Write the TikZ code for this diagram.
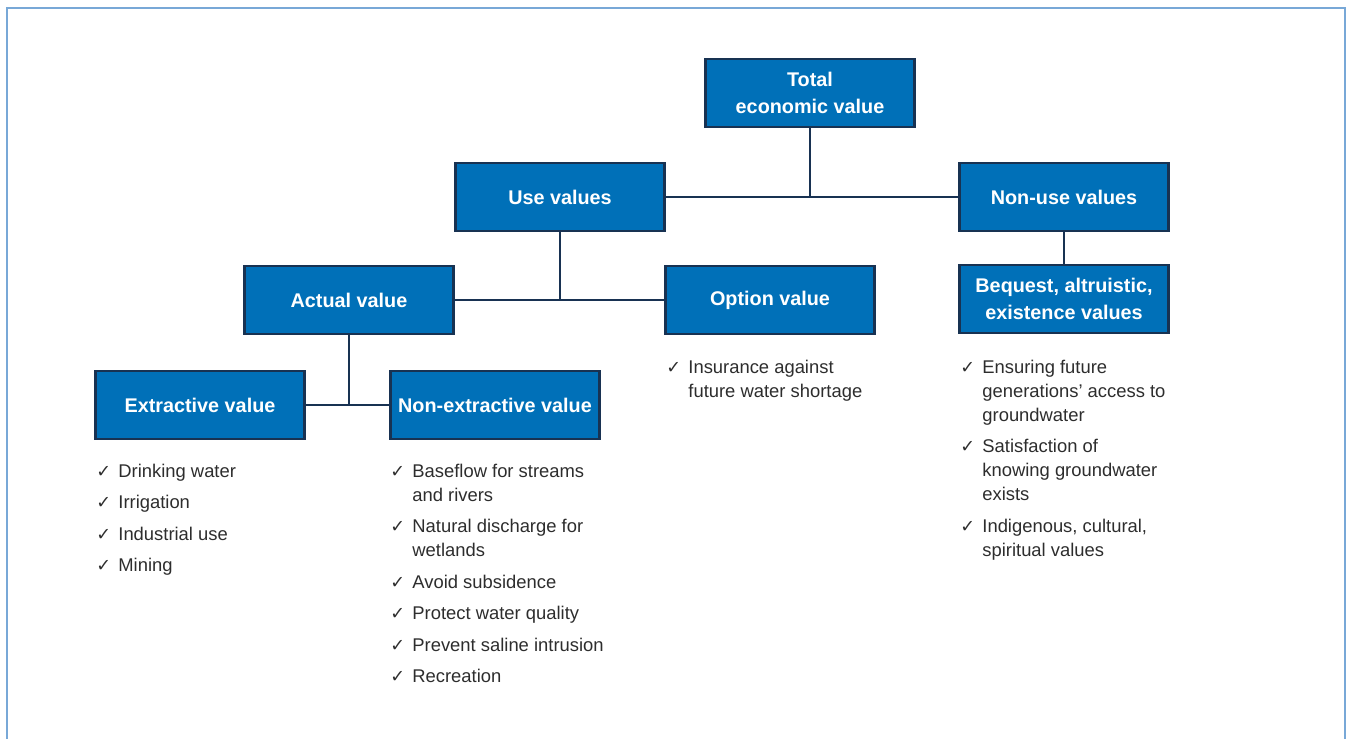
\documentclass[tikz,border=0pt]{standalone}
\usepackage{fontspec}
\setmainfont{Liberation Sans}
\newfontfamily\symfont{DejaVu Sans}
\usetikzlibrary{positioning}
\definecolor{boxblue}{RGB}{0,112,184}
\definecolor{navy}{RGB}{24,50,82}
\definecolor{framecolor}{RGB}{120,168,215}
\definecolor{textgray}{RGB}{45,45,45}
\newcommand{\tick}{\makebox[11pt][l]{\symfont\fontsize{8.8}{9}\selectfont ✓}}

\begin{document}
\begin{tikzpicture}[
    x=0.5pt, y=-0.5pt,
    block/.style={draw=navy, fill=boxblue, line width=1.1pt, text=white, minimum width=104.5pt, minimum height=34pt, align=center, inner sep=2pt, font=\bfseries\fontsize{9.9}{13.5}\selectfont},
    link/.style={draw=navy, line width=1.2pt},
    list/.style={anchor=north west, inner sep=0pt, align=left, text=textgray, font=\fontsize{9.2}{12}\selectfont}
]
  \useasboundingbox (0,0) rectangle (1347,738);
  % frame
  \draw[framecolor, line width=0.9pt] (7,760) -- (7,8) -- (1345,8) -- (1345,760);

  % top level
  \node[block] (total) at (810,93) {Total\\economic value};
  \node[block] (use) at (560,197) {Use values};
  \node[block] (nonuse) at (1064,197) {Non-use values};

  \draw[link] (total.south) -- (total.south |- use.east);
  \draw[link] (use.east) -- (nonuse.west);

  % second level
  \node[block] (actual) at (349,300) {Actual value};
  \node[block] (option) at (770,300) {Option value};
  \node[block] (bequest) at (1064,299) {Bequest, altruistic,\\existence values};

  \draw[link] (use.south) -- (use.south |- actual.east);
  \draw[link] (actual.east) -- (option.west);
  \draw[link] (nonuse) -- (bequest);

  % third level
  \node[block] (extr) at (200,405) {Extractive value};
  \node[block] (nonextr) at (495,405) {Non-extractive value};

  \draw[link] (actual.south) -- (actual.south |- extr.east);
  \draw[link] (extr) -- (nonextr);

  % lists
  \node[list] (extrlist) at (96,460) {\begin{tabular}{@{}l@{}l@{}}
    \tick & Drinking water\\[3.75pt]
    \tick & Irrigation\\[3.75pt]
    \tick & Industrial use\\[3.75pt]
    \tick & Mining
  \end{tabular}};
  \node[list] (nonextrlist) at (390,460) {\begin{tabular}{@{}l@{}l@{}}
    \tick & Baseflow for streams\\
          & and rivers\\[3.75pt]
    \tick & Natural discharge for\\
          & wetlands\\[3.75pt]
    \tick & Avoid subsidence\\[3.75pt]
    \tick & Protect water quality\\[3.75pt]
    \tick & Prevent saline intrusion\\[3.75pt]
    \tick & Recreation
  \end{tabular}};
  \node[list] (optionlist) at (666,356) {\begin{tabular}{@{}l@{}l@{}}
    \tick & Insurance against\\
          & future water shortage
  \end{tabular}};
  \node[list] (bequestlist) at (960,356) {\begin{tabular}{@{}l@{}l@{}}
    \tick & Ensuring future\\
          & generations’ access to\\
          & groundwater\\[3.75pt]
    \tick & Satisfaction of\\
          & knowing groundwater\\
          & exists\\[3.75pt]
    \tick & Indigenous, cultural,\\
          & spiritual values
  \end{tabular}};
\end{tikzpicture}
\end{document}
